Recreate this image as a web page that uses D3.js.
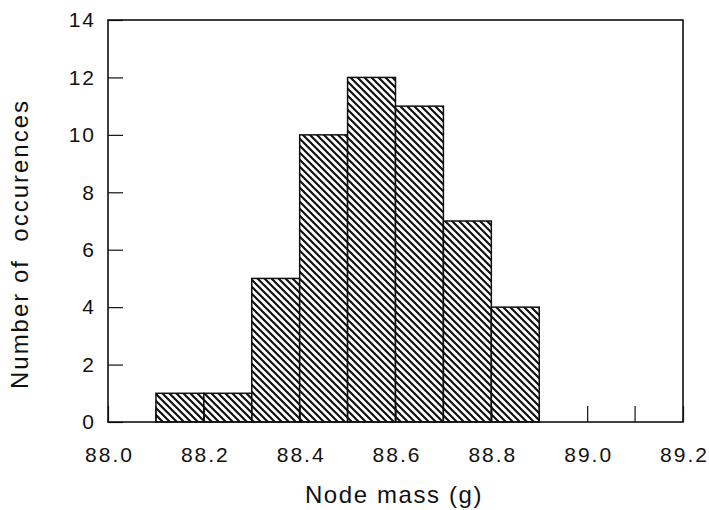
<!DOCTYPE html>
<html>
<head>
<meta charset="utf-8">
<script src="https://cdn.jsdelivr.net/npm/d3@7"></script>
<style>
  body { margin: 0; background: #fff; }
  svg { display: block; }
  text { font-family: "Liberation Sans", Arial, Helvetica, sans-serif; fill: #111; }
</style>
</head>
<body>
<svg id="chart" width="709" height="510"></svg>
<script>
// Histogram bins of node mass (g) and their counts
const binStarts = [88.1, 88.2, 88.3, 88.4, 88.5, 88.6, 88.7, 88.8];
const binWidth = 0.1;
const counts = [1, 1, 5, 10, 12, 11, 7, 4];
const xTicks = [88.0, 88.2, 88.4, 88.6, 88.8, 89.0, 89.2];
const xMinorTicks = [88.1, 88.3, 88.5, 88.7, 88.9, 89.1];
const yTicks = [0, 2, 4, 6, 8, 10, 12, 14];

const svg = d3.select("#chart");
const margin = { left: 108, right: 26, top: 20, bottom: 88 };
const W = 709, H = 510;

const x = d3.scaleLinear().domain([88.0, 89.2]).range([margin.left, W - margin.right]);
const y = d3.scaleLinear().domain([0, 14]).range([H - margin.bottom, margin.top]);

// diagonal hatch fill
const defs = svg.append("defs");
const pat = defs.append("pattern")
  .attr("id", "hatch")
  .attr("patternUnits", "userSpaceOnUse")
  .attr("width", 7).attr("height", 7);
pat.append("rect").attr("width", 7).attr("height", 7).attr("fill", "#fff");
pat.append("path")
  .attr("d", "M-1,-1 L8,8 M-1,6 L1,8 M6,-1 L8,1")
  .attr("stroke", "#111").attr("stroke-width", 2.2);

const data = binStarts.map((s, i) => ({ x0: s, x1: s + binWidth, n: counts[i] }));

svg.append("g").selectAll("rect")
  .data(data)
  .join("rect")
  .attr("x", d => x(d.x0))
  .attr("y", d => y(d.n))
  .attr("width", d => x(d.x1) - x(d.x0))
  .attr("height", d => y(0) - y(d.n))
  .attr("fill", "url(#hatch)")
  .attr("stroke", "#111")
  .attr("stroke-width", 1.5);

// axes with inward ticks
const xAxis = svg.append("g")
  .attr("transform", `translate(0,${y(0)})`)
  .call(d3.axisBottom(x).tickValues(xTicks).tickSize(-16).tickPadding(25)
    .tickFormat(d3.format(".1f")));
xAxis.append("g").selectAll("line")
  .data(xMinorTicks).join("line")
  .attr("x1", d => x(d)).attr("x2", d => x(d))
  .attr("y1", 0).attr("y2", -16)
  .attr("stroke", "#111").attr("stroke-width", 1.2);

const yAxis = svg.append("g")
  .attr("transform", `translate(${x(88.0)},0)`)
  .call(d3.axisLeft(y).tickValues(yTicks).tickSize(-15).tickPadding(12));

[xAxis, yAxis].forEach(g => {
  g.attr("font-size", null).attr("font-family", null);
  g.select(".domain").remove();
  g.selectAll(".tick line").attr("stroke", "#111").attr("stroke-width", 1.2);
  g.selectAll(".tick text")
    .style("font-size", "21px")
    .style("letter-spacing", "2px")
    .attr("fill", "#111");
});
// keep centred labels centred despite trailing letter spacing
xAxis.selectAll(".tick text").attr("dx", 1);

// frame around plot area
svg.append("rect")
  .attr("x", x(88.0)).attr("y", y(14))
  .attr("width", x(89.2) - x(88.0)).attr("height", y(0) - y(14))
  .attr("fill", "none").attr("stroke", "#111").attr("stroke-width", 1.6);

// axis titles
svg.append("text")
  .attr("x", 394).attr("y", 503)
  .attr("text-anchor", "middle")
  .style("font-size", "24px").style("letter-spacing", "1.6px")
  .text("Node mass (g)");

svg.append("text")
  .attr("transform", `translate(28,244) rotate(-90)`)
  .attr("text-anchor", "middle")
  .style("font-size", "24px").style("letter-spacing", "2px")
  .style("white-space", "pre")
  .text("Number of  occurences");
</script>
</body>
</html>
